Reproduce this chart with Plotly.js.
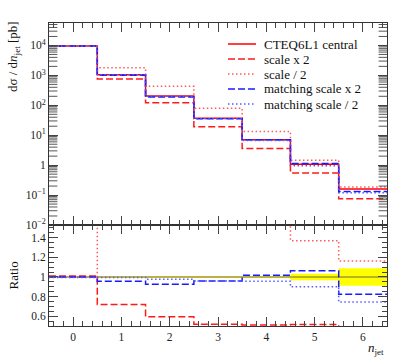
<!DOCTYPE html>
<html>
<head>
<meta charset="utf-8">
<script src="https://cdn.plot.ly/plotly-3.0.1.min.js"></script>
<style>html,body{margin:0;padding:0;background:#fff;}#chart{width:399px;height:360px;}</style>
</head>
<body>
<div id="chart"></div>
<script>
// ---- data ----
const nJet = [0, 1, 2, 3, 4, 5, 6];
const central     = [9500, 1050, 205, 37, 7.0, 1.07, 0.16];
const centralErr  = [0.004, 0.004, 0.004, 0.004, 0.004, 0.033, 0.09]; // relative
const scaleUp     = [9595, 756, 122, 19.2, 3.57, 0.551, 0.0752];
const scaleDown   = [9500, 1785, 430, 79.5, 13.3, 1.466, 0.186];
const matchUp     = [9500, 1005, 190, 35.5, 7.12, 1.137, 0.132];
const matchDown   = [9452, 1045, 200, 35.5, 6.70, 0.963, 0.119];
const seriesNames = ["CTEQ6L1 central", "scale x 2", "scale / 2", "matching scale x 2", "matching scale / 2"];
const yTickVals  = [0.01, 0.1, 1, 10, 100, 1000, 10000];
const yTickText  = ["10<sup>\u22122</sup>", "10<sup>\u22121</sup>", "1", "10<sup>1</sup>", "10<sup>2</sup>", "10<sup>3</sup>", "10<sup>4</sup>"];
const rTickVals  = [0.6, 0.8, 1, 1.2, 1.4];
const rTickText  = ["0.6", "0.8", "1", "1.2", "1.4"];

// ---- styles ----
const styles = [
  {color: "#ff0000", dash: "solid"},
  {color: "#ff1a1a", dash: "7px,3px"},
  {color: "#ff5a5a", dash: "1.5px,2.5px"},
  {color: "#1a1aff", dash: "7px,3px"},
  {color: "#5a5aff", dash: "1.5px,2.5px"}
];
const LW = 1.5;
const FONT = "Liberation Serif, DejaVu Serif, serif";

// step helpers
const edges = nJet.map(n => n - 0.5).concat([nJet[nJet.length - 1] + 0.5]);
const stepY = arr => arr.concat([arr[arr.length - 1]]);
const xLo = edges[0], xHi = edges[edges.length - 1];

const allSeries = [central, scaleUp, scaleDown, matchUp, matchDown];
const traces = [];

// ratio band (yellow)
const bandLo = central.map((c, i) => 1 - centralErr[i]);
const bandHi = central.map((c, i) => 1 + centralErr[i]);
traces.push({x: edges, y: stepY(bandLo), xaxis: "x", yaxis: "y", mode: "lines",
  line: {shape: "hv", width: 0, color: "rgba(0,0,0,0)"}, showlegend: false, hoverinfo: "skip"});
traces.push({x: edges, y: stepY(bandHi), xaxis: "x", yaxis: "y", mode: "lines", fill: "tonexty",
  fillcolor: "#ffff00", line: {shape: "hv", width: 0, color: "rgba(0,0,0,0)"}, showlegend: false, hoverinfo: "skip"});

allSeries.forEach((s, k) => {
  // main panel
  traces.push({x: edges, y: stepY(s), xaxis: "x2", yaxis: "y2", mode: "lines", name: seriesNames[k],
    line: {shape: "hv", width: LW, color: styles[k].color, dash: styles[k].dash}, showlegend: false});
  // ratio panel
  const r = s.map((v, i) => v / central[i]);
  traces.push({x: edges, y: stepY(r), xaxis: "x", yaxis: "y", mode: "lines",
    line: {shape: "hv", width: LW, color: k === 0 ? "#a09a28" : styles[k].color, dash: styles[k].dash}, showlegend: false});
});

// log-axis minor ticks (2..9 per decade) drawn as clipped horizontal-line markers on both frame edges
const LOGRANGE = [-2, 4.75];
const logMinor = [];
for (let e = -2; e <= 4; e++) for (let m = 2; m <= 9; m++) {
  const v = m * Math.pow(10, e);
  if (Math.log10(v) < LOGRANGE[1]) logMinor.push(v);
}
[xLo, xHi].forEach(xe => {
  traces.push({x: logMinor.map(() => xe), y: logMinor, xaxis: "x2", yaxis: "y2", mode: "markers",
    marker: {symbol: "line-ew", size: 12, color: "#555", line: {width: 1, color: "#555"}},
    cliponaxis: true, showlegend: false, hoverinfo: "skip"});
});

// ---- layout ----
const L = 49, R = 387, T = 23, B = 326;
const px = x => (x - L) / (R - L);
const py = y => 1 - (y - T) / (B - T);
const axCommon = {
  showgrid: false, zeroline: false, showline: true, linecolor: "#333", linewidth: 1,
  ticks: "inside", ticklen: 9, tickcolor: "#444", tickwidth: 1, mirror: "ticks",
  tickfont: {family: FONT, size: 11.5, color: "#222"}
};
const splitFrac = 101 / 303;

const shapes = [], annotations = [];
const legY = [44, 59, 74, 89, 104];
seriesNames.forEach((nm, k) => {
  shapes.push({type: "line", xref: "paper", yref: "paper", x0: px(228), x1: px(256), y0: py(legY[k]), y1: py(legY[k]),
    line: {color: styles[k].color, width: LW, dash: styles[k].dash}});
  annotations.push({xref: "paper", yref: "paper", x: px(262), y: py(legY[k]), xanchor: "left", yanchor: "middle",
    text: nm, showarrow: false, font: {family: FONT, size: 13, color: "#111"}});
});
annotations.push({xref: "paper", yref: "paper", x: px(13), y: py(57), textangle: -90, xanchor: "center", yanchor: "middle",
  text: "d\u03c3 / d<i>n</i><sub>jet</sub> [pb]", showarrow: false, font: {family: FONT, size: 13, color: "#111"}});
annotations.push({xref: "paper", yref: "paper", x: px(13), y: py(275.5), textangle: -90, xanchor: "center", yanchor: "middle",
  text: "Ratio", showarrow: false, font: {family: FONT, size: 13, color: "#111"}});
annotations.push({xref: "paper", yref: "paper", x: px(386), y: py(348), xanchor: "right", yanchor: "middle",
  text: "<i>n</i><sub>jet</sub>", showarrow: false, font: {family: FONT, size: 13, color: "#111"}});

const layout = {
  width: 399, height: 360,
  margin: {l: L, r: 399 - R, t: T, b: 360 - B, pad: 0},
  paper_bgcolor: "#fff", plot_bgcolor: "#fff",
  showlegend: false,
  xaxis: Object.assign({}, axCommon, {range: [xLo, xHi], anchor: "y", tickvals: nJet, ticktext: nJet.map(String),
    minor: {dtick: 0.2, tick0: 0, ticks: "inside", ticklen: 5, tickcolor: "#444"}}),
  xaxis2: Object.assign({}, axCommon, {range: [xLo, xHi], anchor: "y2", matches: "x", showticklabels: false,
    tickvals: nJet, minor: {dtick: 0.2, tick0: 0, ticks: "inside", ticklen: 5, tickcolor: "#444"}}),
  yaxis: Object.assign({}, axCommon, {domain: [0, splitFrac], range: [0.5, 1.53], anchor: "x",
    tickvals: rTickVals, ticktext: rTickText,
    minor: {dtick: 0.05, tick0: 0.5, ticks: "inside", ticklen: 5, tickcolor: "#444"}}),
  yaxis2: Object.assign({}, axCommon, {domain: [splitFrac, 1], type: "log", range: LOGRANGE, anchor: "x2",
    tickmode: "array", tickvals: yTickVals, ticktext: yTickText}),
  shapes: shapes,
  annotations: annotations
};

Plotly.newPlot("chart", traces, layout, {staticPlot: true, displayModeBar: false});
</script>
</body>
</html>
